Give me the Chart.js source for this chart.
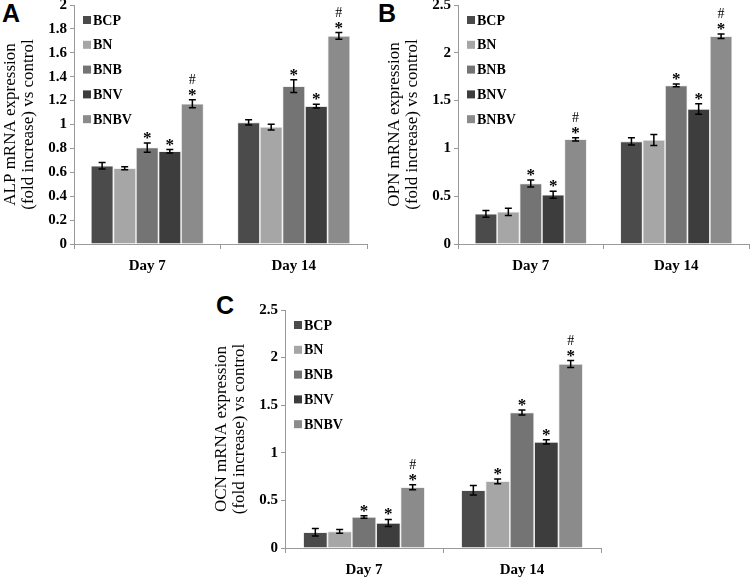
<!DOCTYPE html>
<html>
<head>
<meta charset="utf-8">
<script src="https://cdn.jsdelivr.net/npm/chart.js@4/dist/chart.umd.min.js"></script>
<style>
  body { margin: 0; background: #fff; width: 750px; height: 577px; overflow: hidden; position: relative; }
  canvas { position: absolute; }
  .tag { position: absolute; font: bold 25px "Liberation Sans", Arial, sans-serif; color: #000; }
</style>
</head>
<body>
<div class="tag" style="left:2px;top:-1px">A</div>
<div class="tag" style="left:378px;top:-1px">B</div>
<div class="tag" style="left:216px;top:291px">C</div>
<canvas id="chartA" width="375" height="300" style="left:0;top:-10px"></canvas>
<canvas id="chartB" width="375" height="300" style="left:375px;top:-10px"></canvas>
<canvas id="chartC" width="410" height="282" style="left:200px;top:295px"></canvas>
<script>
// groups and series
const days = ["Day 7", "Day 14"];
const groups = ["BCP", "BN", "BNB", "BNV", "BNBV"];
const colors = ["#4b4b4b", "#a6a6a6", "#747474", "#3d3d3d", "#8b8b8b"];

// ALP (panel A) — values per group: [Day 7, Day 14]
const alpBCP = [0.655, 1.018], alpBN = [0.634, 0.979], alpBNB = [0.807, 1.321], alpBNV = [0.776, 1.154], alpBNBV = [1.174, 1.741];
const alpErr = [[0.028, 0.022], [0.013, 0.024], [0.039, 0.053], [0.014, 0.015], [0.033, 0.028]];
const alpMarks = [["", ""], ["", ""], ["*", "*"], ["*", "*"], ["*#", "*#"]];

// OPN (panel B)
const opnBCP = [0.316, 1.074], opnBN = [0.337, 1.088], opnBNB = [0.633, 1.659], opnBNV = [0.515, 1.412], opnBNBV = [1.095, 2.173];
const opnErr = [[0.035, 0.038], [0.038, 0.057], [0.036, 0.014], [0.036, 0.054], [0.017, 0.023]];
const opnMarks = [["", ""], ["", ""], ["*", "*"], ["*", "*"], ["*#", "*#"]];

// OCN (panel C)
const ocnBCP = [0.165, 0.607], ocnBN = [0.175, 0.701], ocnBNB = [0.326, 1.424], ocnBNV = [0.263, 1.115], ocnBNBV = [0.638, 1.932];
const ocnErr = [[0.039, 0.05], [0.02, 0.025], [0.014, 0.026], [0.037, 0.023], [0.026, 0.037]];
const ocnMarks = [["", ""], ["", "*"], ["*", "*"], ["*", "*"], ["*#", "*#"]];

const serif = '"Liberation Serif", "Times New Roman", serif';

// error bars, significance marks and the inset legend
const extras = {
  id: "extras",
  afterDatasetsDraw(chart, args, opts) {
    const ctx = chart.ctx;
    const y = chart.scales.y;
    ctx.save();
    chart.data.datasets.forEach((ds, i) => {
      const meta = chart.getDatasetMeta(i);
      meta.data.forEach((bar, j) => {
        const v = ds.data[j], e = opts.err[i][j];
        const top = y.getPixelForValue(v + e), bot = y.getPixelForValue(v - e);
        ctx.strokeStyle = "#000";
        ctx.lineWidth = 1.5;
        ctx.beginPath();
        ctx.moveTo(bar.x, top); ctx.lineTo(bar.x, bot);
        ctx.moveTo(bar.x - 3.5, top); ctx.lineTo(bar.x + 3.5, top);
        ctx.moveTo(bar.x - 3.5, bot); ctx.lineTo(bar.x + 3.5, bot);
        ctx.stroke();
        const m = opts.marks[i][j];
        ctx.fillStyle = "#000";
        ctx.textAlign = "center";
        ctx.textBaseline = "alphabetic";
        if (m.includes("*")) {
          ctx.font = "bold 17px " + serif;
          ctx.fillText("*", bar.x, top);
        }
        if (m.includes("#")) {
          ctx.font = "14px " + serif;
          ctx.fillText("#", bar.x, top - 16);
        }
      });
    });
    // legend
    const a = chart.chartArea;
    ctx.textAlign = "left";
    ctx.textBaseline = "middle";
    ctx.font = "bold 14px " + serif;
    chart.data.datasets.forEach((ds, i) => {
      const cy = a.top + 15 + i * 24.8;
      ctx.fillStyle = ds.backgroundColor;
      ctx.fillRect(a.left + 9, cy - 4, 8, 8);
      ctx.fillStyle = "#000";
      ctx.fillText(ds.label, a.left + 19, cy + 1);
    });
    ctx.restore();
  }
};

function makeChart(id, series, err, marks, max, step, title, yWidth, xHeight, padRight, titlePad) {
  return new Chart(document.getElementById(id), {
    type: "bar",
    data: {
      labels: days,
      datasets: series.map((d, i) => ({
        label: groups[i],
        data: d,
        backgroundColor: colors[i],
        borderColor: "#e4e4e4",
        borderWidth: 0.8,
        categoryPercentage: 0.77,
        barPercentage: 1
      }))
    },
    options: {
      responsive: false,
      animation: false,
      layout: { padding: { top: 15, right: padRight, bottom: 0, left: 0 } },
      plugins: {
        legend: { display: false },
        tooltip: { enabled: false },
        extras: { err: err, marks: marks }
      },
      scales: {
        x: {
          grid: { drawOnChartArea: false, drawTicks: true, tickLength: 5, color: "#999", offset: true },
          border: { color: "#999" },
          ticks: { color: "#000", padding: 8, font: { family: serif, size: 15, weight: "bold" } },
          afterFit: s => { s.height = xHeight; }
        },
        y: {
          min: 0, max: max,
          grid: { drawOnChartArea: false, drawTicks: true, tickLength: 4, color: "#999" },
          border: { color: "#999" },
          ticks: {
            stepSize: step, color: "#000", padding: 3,
            font: { family: serif, size: 15, weight: "bold" },
            callback: v => String(Number(v.toFixed(1)))
          },
          title: {
            display: true, text: title, color: "#000",
            font: { family: serif, size: 17, lineHeight: 1.05 },
            padding: { top: titlePad, bottom: 0 }
          },
          afterFit: s => { s.width = yWidth; }
        }
      }
    },
    plugins: [extras]
  });
}

makeChart("chartA", [alpBCP, alpBN, alpBNB, alpBNV, alpBNBV], alpErr, alpMarks, 2, 0.2,
  ["ALP mRNA expression", "(fold increase) vs control"], 74, 46, 8, 2);
makeChart("chartB", [opnBCP, opnBN, opnBNB, opnBNV, opnBNBV], opnErr, opnMarks, 2.5, 0.5,
  ["OPN mRNA expression", "(fold increase) vs control"], 83, 46, 1, 11);
makeChart("chartC", [ocnBCP, ocnBN, ocnBNB, ocnBNV, ocnBNBV], ocnErr, ocnMarks, 2.5, 0.5,
  ["OCN mRNA expression", "(fold increase) vs control"], 85, 29, 9, 13);
</script>
</body>
</html>
